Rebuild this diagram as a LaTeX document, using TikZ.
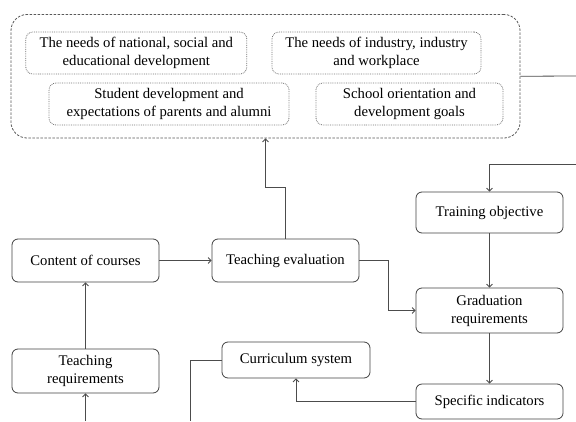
\documentclass[tikz,border=0pt]{standalone}
\usepackage{fontspec}
\setmainfont{Liberation Serif}
\usetikzlibrary{arrows.meta}
\begin{document}
\begin{tikzpicture}[x=1bp, y=1bp, >={Straight Barb[length=3bp,width=6bp]}, line width=0.8bp]
    \tikzstyle{block}=[draw=black!75, rounded corners=6bp, align=center, minimum width=147bp, inner sep=0pt, font=\fontsize{14.7bp}{18bp}\selectfont]
    \tikzstyle{need}=[draw=black!55, densely dotted, rounded corners=7bp, align=center, minimum height=42bp, inner sep=0pt, font=\fontsize{14.7bp}{18bp}\selectfont]
    \tikzstyle{link}=[draw=black!70]
    \useasboundingbox (0,0) rectangle (576,421);

    % draw the frame of needs
    \node [draw=black!65, dash pattern=on 2.5bp off 1.5bp, rounded corners=16bp, minimum width=509bp, minimum height=123.5bp] (needs) at (265.5,344.75) {};
    \foreach \m/\x/\y/\w/\l in {1/136.3/368/221/{The needs of national, social and\\educational development},
                                2/376.5/368/209/{The needs of industry, industry\\and workplace},
                                3/169/317/240/{Student development and\\expectations of parents and alumni},
                                4/409.5/317/187/{School orientation and\\development goals}}
    \node [need, minimum width=\w bp] (need-\m) at (\x,\y) {\l};

    % draw blocks
    \node [block, minimum height=41bp] (objective) at (489.5,208.5) {Training objective};
    \node [block, minimum height=43bp] (content) at (85.5,160.5) {Content of courses};
    \node [block, minimum height=43bp] (evaluation) at (285.5,160.5) {Teaching evaluation};
    \node [block, minimum height=45bp] (graduation) at (489.5,110.5) {Graduation\\requirements};
    \node [block, minimum height=36bp, minimum width=148bp] (curriculum) at (296,61) {Curriculum system};
    \node [block, minimum height=35bp] (indicators) at (489.5,19.5) {Specific indicators};
    \node [block, minimum height=44bp] (requirements) at (85.5,50) {Teaching\\requirements};

    % loose ends at the border
    \coordinate (needs-out) at (576,345);
    \coordinate (objective-in) at (576,257);
    \coordinate (curriculum-out) at (190.7,0);
    \coordinate (requirements-in) at (85.5,0);

    % draw lines
    \draw [link] (needs.east) -- (needs-out);
    \draw [link, ->] (objective-in) -| (objective.north);
    \draw [link, ->] (evaluation.north) -- ++(0,51) -| (needs.south);
    \draw [link, ->] (content.east) -- (evaluation.west);
    \draw [link, ->] (evaluation.east) -- ++(28.5,0) |- (graduation.west);
    \draw [link, ->] (objective.south) -- (graduation.north);
    \draw [link, ->] (graduation.south) -- (indicators.north);
    \draw [link, ->] (indicators.west) -| (curriculum.south);
    \draw [link] (curriculum.west) -| (curriculum-out);
    \draw [link, ->] (requirements.north) -- (content.south);
    \draw [link, ->] (requirements-in) -- (requirements.south);
  \end{tikzpicture}
\end{document}
